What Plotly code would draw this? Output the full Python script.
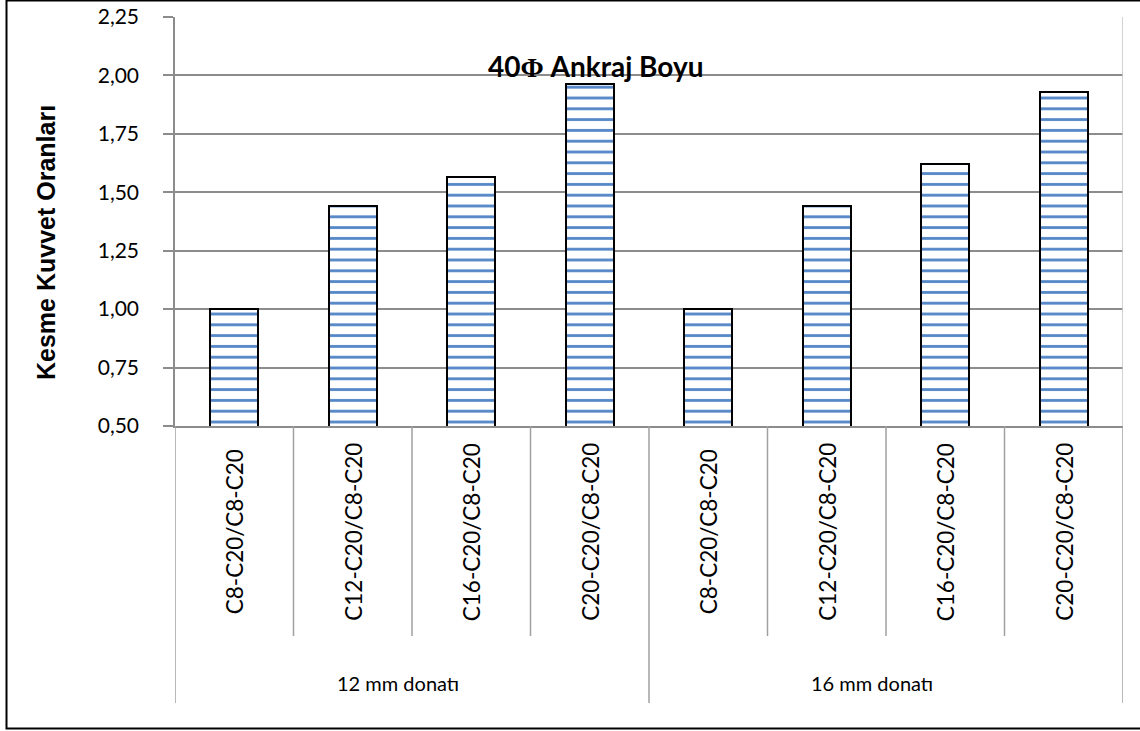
import plotly.graph_objects as go

# Shear force ratios for 40Φ anchorage length
groups = ["12 mm donatı", "16 mm donatı"]
categories = [
    "C8-C20/C8-C20", "C12-C20/C8-C20", "C16-C20/C8-C20", "C20-C20/C8-C20",
    "C8-C20/C8-C20", "C12-C20/C8-C20", "C16-C20/C8-C20", "C20-C20/C8-C20",
]
ratios = [1.00, 1.44, 1.565, 1.965, 1.00, 1.44, 1.62, 1.93]
y_ticks = [0.50, 0.75, 1.00, 1.25, 1.50, 1.75, 2.00, 2.25]

W, H = 1140, 731
ML, MR, MT, MB = 175, 17, 17, 305
PW, PH = W - ML - MR, H - MT - MB


def py(p):
    """pixel row -> paper y"""
    return (H - MB - p) / PH


def px(p):
    """pixel column -> paper x"""
    return (p - ML) / PW


positions = list(range(len(categories)))
n_per_group = len(categories) // len(groups)

fig = go.Figure()
fig.add_trace(go.Bar(
    x=positions,
    y=ratios,
    width=0.405,
    marker=dict(
        color="white",
        line=dict(color="black", width=2),
        pattern=dict(shape="-", fgcolor="#4a80c4", fgopacity=0.95, size=10.8,
                     solidity=0.26, fillmode="overlay"),
    ),
    hoverinfo="y",
))

grid = "#8c8c8c"
fig.update_layout(
    width=W, height=H,
    margin=dict(l=ML, r=MR, t=MT, b=MB, autoexpand=False),
    paper_bgcolor="white", plot_bgcolor="white",
    separators=",.",
    showlegend=False,
    bargap=0,
)
fig.update_xaxes(
    range=[-0.5, len(categories) - 0.5], automargin=False,
    showticklabels=False, showgrid=False, zeroline=False,
    showline=True, linecolor=grid, linewidth=1.5, ticks="",
)
fig.update_yaxes(
    range=[y_ticks[0], y_ticks[-1]], automargin=False,
    tickvals=y_ticks, tickformat=".2f",
    showgrid=True, gridcolor=grid, gridwidth=1.5,
    showline=True, linecolor=grid, linewidth=1.5,
    ticks="outside", ticklen=10, tickcolor=grid, tickwidth=1.5,
    ticklabelstandoff=20,
    tickfont=dict(family="Lato", size=21, color="black"),
    zeroline=False,
)

# category dividers below the axis
inner_bottom = py(636)
outer_bottom = py(703)
shapes = []
for k in range(len(categories) + 1):
    xv = k - 0.5
    is_outer = k % n_per_group == 0
    shapes.append(dict(
        type="line", xref="x", yref="paper",
        x0=xv, x1=xv, y0=0, y1=outer_bottom if is_outer else inner_bottom,
        line=dict(color="#a0a0a0", width=1.5),
    ))
# right edge of the plot area
shapes.append(dict(type="line", xref="x", yref="paper",
                   x0=len(categories) - 0.5, x1=len(categories) - 0.5,
                   y0=0, y1=1, line=dict(color="#c4c4c4", width=1.5)))
# chart frame
shapes.append(dict(type="rect", xref="paper", yref="paper",
                   x0=px(6.5), x1=px(1146), y0=py(728.5), y1=py(0.5),
                   line=dict(color="black", width=2)))

annotations = []
for i, cat in enumerate(categories):
    annotations.append(dict(
        x=i, y=py(532), xref="x", yref="paper", text=cat, textangle=-90,
        showarrow=False, xanchor="center", yanchor="middle",
        font=dict(family="Lato", size=22.5, color="black"),
    ))
for g, name in enumerate(groups):
    annotations.append(dict(
        x=g * n_per_group + (n_per_group - 1) / 2, y=py(683),
        xref="x", yref="paper", text=name, showarrow=False, xshift=-14,
        xanchor="center", yanchor="middle",
        font=dict(family="Lato", size=20, color="black"),
    ))
annotations.append(dict(
    x=px(595), y=py(66), xref="paper", yref="paper",
    text="<b>40<span style='font-family:Liberation Serif'>Φ</span> Ankraj Boyu</b>",
    showarrow=False, xanchor="center", yanchor="middle",
    font=dict(family="Lato", size=28, color="black"),
))
annotations.append(dict(
    x=px(46), y=py(243), xref="paper", yref="paper",
    text="<b>Kesme Kuvvet Oranları</b>", textangle=-90,
    showarrow=False, xanchor="center", yanchor="middle",
    font=dict(family="Liberation Sans", size=25, color="black"),
))
fig.update_layout(shapes=shapes, annotations=annotations)

fig.write_html("out.html")
